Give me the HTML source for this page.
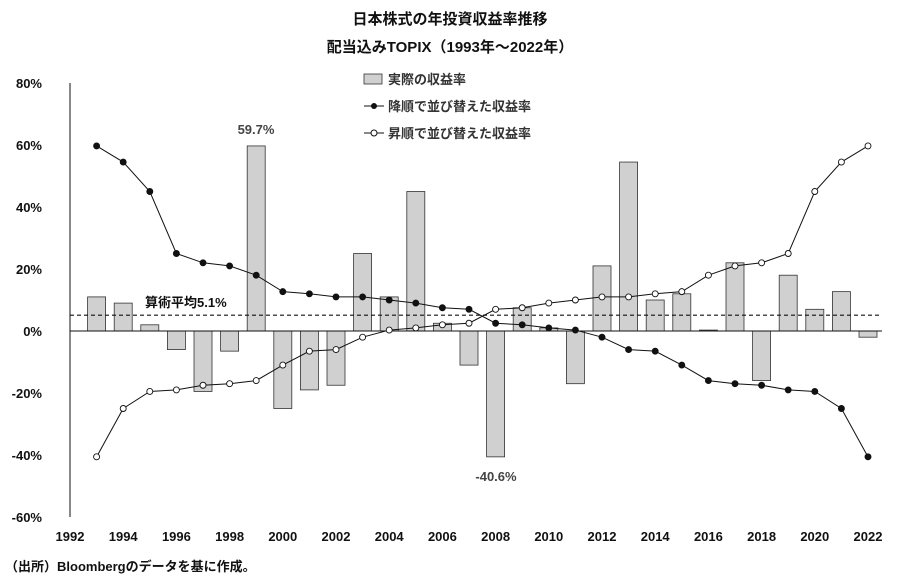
<!DOCTYPE html>
<html><head><meta charset="utf-8">
<style>
html,body{margin:0;padding:0;background:#fff;}
svg{display:block;font-family:"Liberation Sans","Noto Sans CJK JP",sans-serif;}
</style></head>
<body>
<svg id="c" width="900" height="587" viewBox="0 0 900 587" xmlns="http://www.w3.org/2000/svg">
<text x="450" y="24" text-anchor="middle" font-size="15" font-weight="bold" fill="#111">日本株式の年投資収益率推移</text>
<text x="450" y="52" text-anchor="middle" font-size="15" font-weight="bold" fill="#111">配当込みTOPIX（1993年～2022年）</text>
<g id="g"></g>
<rect x="364" y="74" width="18" height="10" fill="#d0d0d0" stroke="#333" stroke-width="0.8"/>
<text x="388" y="84" font-size="13" font-weight="bold" fill="#333">実際の収益率</text>
<line x1="364" y1="106" x2="384" y2="106" stroke="#111" stroke-width="1"/>
<circle cx="374" cy="106" r="3" fill="#111"/>
<text x="388" y="111" font-size="13" font-weight="bold" fill="#333">降順で並び替えた収益率</text>
<line x1="364" y1="133" x2="384" y2="133" stroke="#111" stroke-width="1"/>
<circle cx="374" cy="133" r="3" fill="#fff" stroke="#111"/>
<text x="388" y="138" font-size="13" font-weight="bold" fill="#333">昇順で並び替えた収益率</text>
<text x="256" y="134" text-anchor="middle" font-size="13" font-weight="bold" fill="#444">59.7%</text>
<text x="496" y="481" text-anchor="middle" font-size="13" font-weight="bold" fill="#444">-40.6%</text>
<text x="145" y="307" font-size="13" font-weight="bold" fill="#111">算術平均5.1%</text>
<text x="5" y="571" font-size="13" font-weight="bold" fill="#111">（出所）Bloombergのデータを基に作成。</text>
</svg>
<script>
var v=[11,9,2,-6,-19.5,-6.5,59.7,-25,-19,-17.5,25,11,45,2.5,-11,-40.6,7.5,1,-17,21,54.5,10,12,0.3,22,-16,18,7,12.7,-2];
function X(y){return 70+(y-1992)*26.6;}
function Y(p){return 331-p*3.1;}
var s='';
for(var t=-60;t<=80;t+=20){s+='<text x="42" y="'+(Y(t)+5)+'" text-anchor="end" font-size="13" font-weight="bold" fill="#111">'+t+'%</text>';}
for(var yr=1992;yr<=2022;yr+=2){s+='<text x="'+X(yr)+'" y="541" text-anchor="middle" font-size="13" font-weight="bold" fill="#111">'+yr+'</text>';}
s+='<line x1="70" y1="'+Y(80)+'" x2="70" y2="'+Y(-60)+'" stroke="#111" stroke-width="1"/>';
for(var i=0;i<30;i++){var x=X(1993+i),a=Y(Math.max(v[i],0)),b=Y(Math.min(v[i],0));
s+='<rect x="'+(x-9)+'" y="'+a+'" width="18" height="'+Math.max(b-a,0.5)+'" fill="#d0d0d0" stroke="#333" stroke-width="0.8"/>';}
s+='<line x1="70" y1="331" x2="882" y2="331" stroke="#111" stroke-width="1"/>';
s+='<line x1="70" y1="'+Y(5.1)+'" x2="882" y2="'+Y(5.1)+'" stroke="#111" stroke-width="1.2" stroke-dasharray="4,3"/>';
var d=v.slice().sort(function(a,b){return b-a;}),u=v.slice().sort(function(a,b){return a-b;});
function ser(arr,fill){var p='';for(var i=0;i<30;i++)p+=X(1993+i)+','+Y(arr[i])+' ';
var o='<polyline points="'+p+'" fill="none" stroke="#111" stroke-width="1"/>';
for(var i=0;i<30;i++)o+='<circle cx="'+X(1993+i)+'" cy="'+Y(arr[i])+'" r="3" fill="'+fill+'" stroke="#111" stroke-width="0.9"/>';return o;}
s+=ser(u,'#fff')+ser(d,'#111');
document.getElementById('g').innerHTML=s;
</script>
</body></html>
